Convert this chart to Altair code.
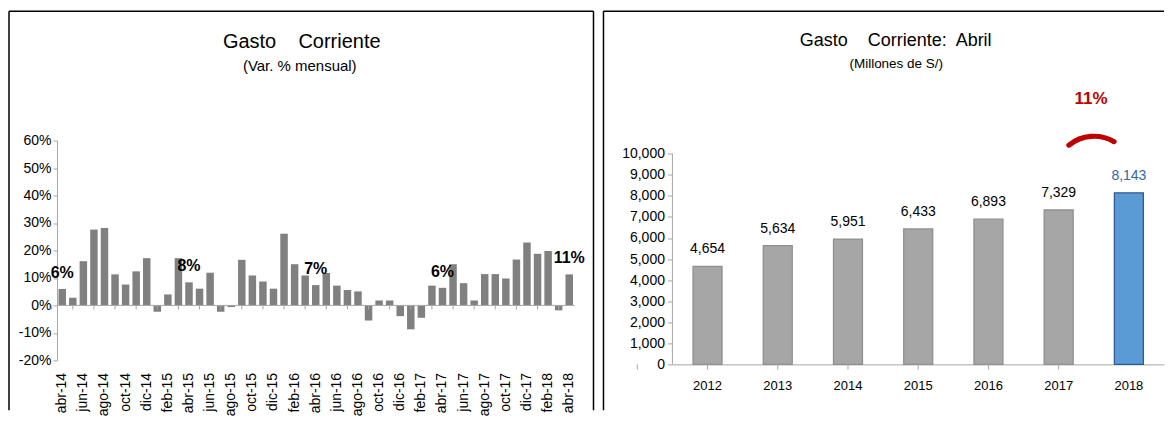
import altair as alt
import pandas as pd

FONT = "Liberation Sans, Arial, sans-serif"

# ---------------- data: left panel (monthly % change) ----------------
months = [
    "abr-14", "may-14", "jun-14", "jul-14", "ago-14", "sep-14", "oct-14", "nov-14", "dic-14",
    "ene-15", "feb-15", "mar-15", "abr-15", "may-15", "jun-15", "jul-15", "ago-15", "sep-15",
    "oct-15", "nov-15", "dic-15", "ene-16", "feb-16", "mar-16", "abr-16", "may-16", "jun-16",
    "jul-16", "ago-16", "sep-16", "oct-16", "nov-16", "dic-16", "ene-17", "feb-17", "mar-17",
    "abr-17", "may-17", "jun-17", "jul-17", "ago-17", "sep-17", "oct-17", "nov-17", "dic-17",
    "ene-18", "feb-18", "mar-18", "abr-18",
]
var_pct = [
    6.0, 2.8, 16.1, 27.6, 28.2, 11.3, 7.6, 12.4, 17.2,
    -2.3, 4.0, 17.2, 8.4, 6.1, 11.9, -2.3, -0.6, 16.6,
    10.9, 8.7, 6.1, 26.1, 15.0, 10.9, 7.4, 11.8, 7.2,
    5.6, 5.1, -5.5, 1.8, 1.8, -3.9, -8.7, -4.5, 7.2,
    6.4, 15.0, 8.1, 1.8, 11.4, 11.4, 9.8, 16.7, 22.9,
    18.8, 19.8, -1.8, 11.3,
]
ann_months = ["abr-14", "abr-15", "abr-16", "abr-17", "abr-18"]
ann_text = ["6%", "8%", "7%", "6%", "11%"]
label_months = months[0::2]
y_ticks_left = [-20, -10, 0, 10, 20, 30, 40, 50, 60]

# ---------------- data: right panel (April, millions S/) ----------------
years = ["2012", "2013", "2014", "2015", "2016", "2017", "2018"]
gasto = [4654, 5634, 5951, 6433, 6893, 7329, 8143]
growth_text = "11%"
y_ticks_right = [0, 1000, 2000, 3000, 4000, 5000, 6000, 7000, 8000, 9000, 10000]
Y_AXIS_MAX = 10000

# ---------------- geometry ----------------
W_L, H_L = 518, 220
W_R, H_R = 492, 224           # same plot top as left panel
H_R_AXIS = 210.8              # pixel length of the 0..10,000 axis
Y_DOMAIN_MAX = Y_AXIS_MAX * H_R / H_R_AXIS
STEP_L = W_L / len(months)
STEP_R = W_R / len(years)

GRAY_AX = "#a6a6a6"
one = pd.DataFrame({"k": [0]})

left_df = pd.DataFrame({"mes": months, "var": var_pct})
ann_df = pd.DataFrame({
    "mes": ann_months,
    "var": [var_pct[months.index(m)] for m in ann_months],
    "txt": ann_text,
})
tick_df = pd.DataFrame({"mes": label_months})

xs_left = alt.Scale(domain=months, paddingInner=0, paddingOuter=0)
ys_left = alt.Scale(domain=[-20, 60], nice=False, zero=False)
xax_left = alt.Axis(values=label_months, labelAngle=-90, domain=False, ticks=False,
                    labelPadding=12, labelFont=FONT, labelFontSize=14,
                    labelColor="black", labelOverlap=False, title=None)
yax_left = alt.Axis(values=y_ticks_left, labelExpr="datum.value + '%'", grid=False,
                    domainColor=GRAY_AX, tickColor=GRAY_AX, tickSize=4, labelPadding=2,
                    labelFont=FONT, labelFontSize=14, labelColor="black",
                    labelOverlap=False, tickCount=9, title=None)
x_left = alt.X("mes:N", sort=months, scale=xs_left, axis=xax_left)
y_left = alt.Y("var:Q", scale=ys_left, axis=yax_left)

bars_l = alt.Chart(left_df).mark_bar(width=7.5, color="#808080").encode(x=x_left, y=y_left)
zero_l = alt.Chart(one).mark_rule(color=GRAY_AX, strokeWidth=1).encode(
    y=alt.YDatum(0, scale=ys_left, axis=yax_left), x=alt.value(0), x2=alt.value(W_L))
ticks_l = alt.Chart(tick_df).mark_rule(color=GRAY_AX, strokeWidth=1).encode(
    x=alt.X("mes:N", sort=months, scale=xs_left, axis=xax_left),
    xOffset=alt.value(-STEP_L / 2),
    y=alt.YDatum(0, scale=ys_left, axis=yax_left), y2=alt.Y2Datum(-1.5))
ann_l = alt.Chart(ann_df).mark_text(
    font=FONT, fontSize=16, fontWeight="bold", color="black", baseline="middle", dy=-16
).encode(x=x_left, y=alt.Y("var:Q", scale=ys_left, axis=yax_left), text="txt:N")

TOP = -129.3
LB, LL, LR = 270, -48, 537
border_l = [
    alt.Chart(one).mark_rule(color="black", strokeWidth=1.5).encode(
        x=alt.value(LL), x2=alt.value(LR), y=alt.value(TOP)),
    alt.Chart(one).mark_rule(color="black", strokeWidth=1.5).encode(
        x=alt.value(LL), y=alt.value(TOP), y2=alt.value(LB)),
    alt.Chart(one).mark_rule(color="black", strokeWidth=1.5).encode(
        x=alt.value(LR), y=alt.value(TOP), y2=alt.value(LB)),
]
title_l = alt.Chart(one).mark_text(
    text="Gasto\u00a0\u00a0\u00a0 Corriente", font=FONT, fontSize=20, color="black",
    align="center", baseline="middle").encode(x=alt.value(245), y=alt.value(-98.5))
sub_l = alt.Chart(one).mark_text(
    text="(Var. % mensual)", font=FONT, fontSize=15, color="black",
    align="center", baseline="middle").encode(x=alt.value(243), y=alt.value(-75))

left = alt.layer(bars_l, zero_l, ticks_l, ann_l, *border_l, title_l, sub_l).properties(
    width=W_L, height=H_L)

# ---------------- right panel ----------------
right_df = pd.DataFrame({"anio": years, "gasto": gasto})
ytick_df = pd.DataFrame({"anio": years})
is_last = alt.datum.anio == years[-1]

xs_right = alt.Scale(domain=years, paddingInner=0, paddingOuter=0)
ys_right = alt.Scale(domain=[0, Y_DOMAIN_MAX], nice=False)
xax_right = alt.Axis(labelAngle=0, domainColor=GRAY_AX, ticks=False, labelPadding=15,
                     labelFont=FONT, labelFontSize=13, labelColor="black", title=None)
yax_right = alt.Axis(values=y_ticks_right, format=",d", grid=False, domain=False,
                     tickColor=GRAY_AX, tickSize=5, labelPadding=3, labelFont=FONT,
                     labelFontSize=14, labelColor="black", labelOverlap=False,
                     tickCount=11, title=None)
x_right = alt.X("anio:N", sort=years, scale=xs_right, axis=xax_right)
y_right = alt.Y("gasto:Q", scale=ys_right, axis=yax_right)

bars_r = alt.Chart(right_df).mark_bar(width=29, strokeWidth=1.3).encode(
    x=x_right, y=y_right,
    fill=alt.condition(is_last, alt.value("#5b9bd5"), alt.value("#a6a6a6")),
    stroke=alt.condition(is_last, alt.value("#2c5d8f"), alt.value("#8f8f8f")),
)
yline_r = alt.Chart(one).mark_rule(color=GRAY_AX, strokeWidth=1).encode(
    x=alt.value(0), y=alt.YDatum(0, scale=ys_right, axis=yax_right),
    y2=alt.Y2Datum(Y_AXIS_MAX))
lbl_r = alt.Chart(right_df).mark_text(
    font=FONT, fontSize=14, baseline="middle", dy=-17
).encode(
    x=x_right, y=y_right,
    text=alt.Text("gasto:Q", format=",d"),
    color=alt.condition(is_last, alt.value("#3465a0"), alt.value("black")),
)
ticks_r = alt.Chart(ytick_df).mark_rule(color=GRAY_AX, strokeWidth=1).encode(
    x=x_right, xOffset=alt.value(-STEP_R / 2),
    y=alt.YDatum(0, scale=ys_right, axis=yax_right), y2=alt.Y2Datum(-250))

DY = 13.2  # right-panel elements sit this much lower relative to the shared plot top
growth = alt.Chart(one).mark_text(
    text=growth_text, font=FONT, fontSize=17, fontWeight="bold", color="#c00000",
    align="center", baseline="middle").encode(x=alt.value(419), y=alt.value(-55 + DY))
arc = alt.Chart(one).mark_arc(
    theta=5.54, theta2=6.87, radius=42.6, radius2=37.4, cornerRadius=2.5, color="#c00000"
).encode(x=alt.value(422), y=alt.value(22.5 + DY))

RB, RL, RR = 270, -69, W_R
border_r = [
    alt.Chart(one).mark_rule(color="black", strokeWidth=1.5).encode(
        x=alt.value(RL), x2=alt.value(RR), y=alt.value(TOP)),
    alt.Chart(one).mark_rule(color="black", strokeWidth=1.5).encode(
        x=alt.value(RL), y=alt.value(TOP), y2=alt.value(RB)),
]
title_r = alt.Chart(one).mark_text(
    text="Gasto\u00a0\u00a0\u00a0 Corriente:\u00a0 Abril", font=FONT, fontSize=18, color="black",
    align="center", baseline="middle").encode(x=alt.value(223.5), y=alt.value(-113 + DY))
sub_r = alt.Chart(one).mark_text(
    text="(Millones de S/)", font=FONT, fontSize=13.5, color="black",
    align="center", baseline="middle").encode(x=alt.value(224), y=alt.value(-89.5 + DY))

right = alt.layer(bars_r, yline_r, lbl_r, ticks_r, growth, arc, *border_r, title_r, sub_r).properties(
    width=W_R, height=H_R)

chart = alt.hconcat(left, right, spacing=8).properties(
    padding={"left": 0, "top": 1.5, "right": 0, "bottom": 0}
).configure_view(stroke=None)

chart.save("out.html", embed_options={"renderer": "svg", "actions": False})
